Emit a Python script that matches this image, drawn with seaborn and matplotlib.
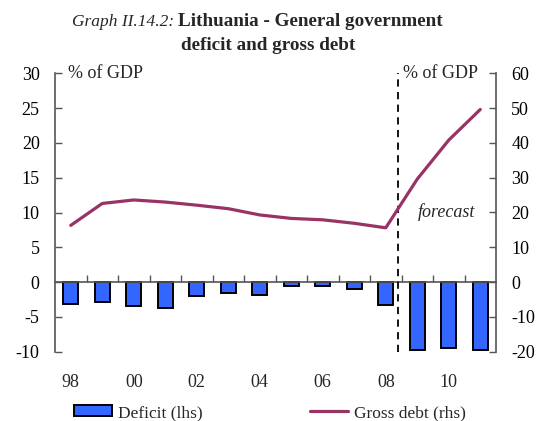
import numpy as np
import pandas as pd
import matplotlib
matplotlib.use("Agg")
import matplotlib.pyplot as plt
import seaborn as sns
from matplotlib.patches import Patch
from matplotlib.lines import Line2D
from matplotlib.ticker import FixedLocator

years = ["98", "99", "00", "01", "02", "03", "04", "05", "06", "07", "08", "09", "10", "11"]
deficit = [-3.2, -2.9, -3.4, -3.7, -2.0, -1.5, -1.8, -0.6, -0.6, -1.0, -3.3, -9.8, -9.4, -9.8]
debt = [16.3, 22.6, 23.6, 23.0, 22.1, 21.1, 19.3, 18.3, 17.9, 16.9, 15.6, 29.6, 40.8, 49.6]
xlabels_shown = ["98", "00", "02", "04", "06", "08", "10"]
left_ticks = [-10, -5, 0, 5, 10, 15, 20, 25, 30]
right_ticks = [-20, -10, 0, 10, 20, 30, 40, 50, 60]

sns.set_style("ticks")
plt.rcParams["font.family"] = ["Liberation Serif", "DejaVu Serif"]
plt.rcParams["axes.unicode_minus"] = False

BAR = "#3366FF"
LINE = "#993366"
AXC = "#555555"

fig = plt.figure(figsize=(5.39, 4.21), dpi=100)
ax = fig.add_axes([55/539, 1-351.7/421, 441/539, (351.7-73.3)/421])

df = pd.DataFrame({"year": years, "deficit": deficit, "debt": debt})
sns.barplot(data=df, x="year", y="deficit", ax=ax, color=BAR, edgecolor="black",
            linewidth=1.4, width=0.47, saturation=1)
ax.set_xlim(-0.5, len(years) - 0.5)
ax.set_ylim(-10, 30)
ax.set_yticks(left_ticks)
ax.set_yticklabels([str(v) for v in left_ticks])
ax.tick_params(axis="y", direction="in", length=5, width=1, pad=11, labelsize=13,
               colors="black", color=AXC)
ax.set_xticks([years.index(y) for y in xlabels_shown])
ax.set_xticklabels(xlabels_shown)
ax.xaxis.set_minor_locator(FixedLocator(np.arange(0.5, len(years) - 1, 1.0)))
ax.tick_params(axis="x", which="major", length=0, pad=66.5, labelsize=13)
ax.tick_params(axis="x", which="minor", direction="in", length=5, width=1, color=AXC)
ax.set_xlabel("")
ax.set_ylabel("")
ax.spines["bottom"].set_position(("data", 0))
ax.spines["bottom"].set_color(AXC)
ax.spines["bottom"].set_linewidth(1.2)
for s in ["top", "right"]:
    ax.spines[s].set_visible(False)
ax.spines["left"].set_color(AXC)
ax.spines["left"].set_linewidth(1.2)

ax2 = ax.twinx()
sns.lineplot(x=np.arange(len(years)), y=debt, ax=ax2, color=LINE, linewidth=2.3)
ax2.set_ylim(-20, 60)
ax2.set_yticks(right_ticks)
ax2.set_yticklabels([str(v) for v in right_ticks])
ax2.tick_params(axis="y", direction="in", length=5, width=1, pad=11, labelsize=13,
                colors="black", color=AXC)
for s in ["top", "bottom", "left"]:
    ax2.spines[s].set_visible(False)
ax2.spines["right"].set_color(AXC)
ax2.spines["right"].set_linewidth(1.2)
ax2.set_xlim(-0.5, len(years) - 0.5)

ax.axvline(10.4, color="black", linestyle=(0, (4, 3)), linewidth=1.3, zorder=5)

ax.text(0.03, 1.0, "% of GDP", transform=ax.transAxes, ha="left", va="center", fontsize=13)
ax.text(0.959, 1.0, "% of GDP", transform=ax.transAxes, ha="right", va="center", fontsize=13)
ax.text(0.887, 10.0, "forecast", transform=ax.get_yaxis_transform(), ha="center", va="center",
        fontsize=13, style="italic")

fig.text(174/539, 1-22/421, "Graph II.14.2:", ha="right", va="center", fontsize=12.5, style="italic")
fig.text(178/539, 1-22/421, "Lithuania - General government", ha="left", va="center",
         fontsize=13.8, weight="bold")
fig.text(268/539, 1-46/421, "deficit and gross debt", ha="center", va="center",
         fontsize=13.8, weight="bold")

handles = [Patch(facecolor=BAR, edgecolor="black", linewidth=1.4),
           Line2D([0], [0], color=LINE, linewidth=2.3)]
fig.legend(handles, ["Deficit (lhs)", "Gross debt (rhs)"], loc="center",
           bbox_to_anchor=(270/539, 1-413/421), ncol=2, frameon=False, fontsize=12.5,
           handlelength=2.2, handleheight=0.6, handletextpad=0.35, columnspacing=6.2)

fig.savefig("out.png", dpi=100)
